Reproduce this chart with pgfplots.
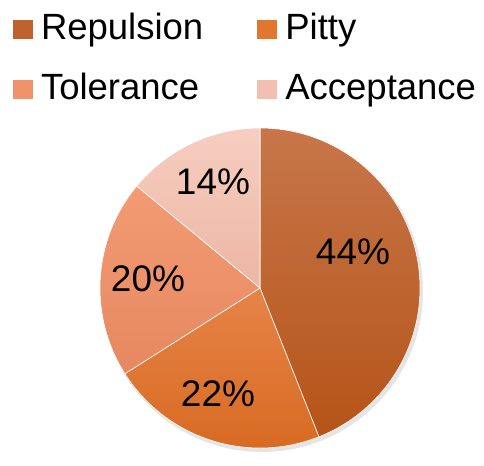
\documentclass[border=0pt]{standalone}
\usepackage{pgfplots}
\pgfplotsset{compat=1.18}
\usepackage{fontspec}
\setmainfont{Liberation Sans}
\definecolor{repT}{RGB}{199,118,74}
\definecolor{repB}{RGB}{181,84,24}
\definecolor{pitT}{RGB}{230,132,72}
\definecolor{pitB}{RGB}{214,104,30}
\definecolor{tolT}{RGB}{243,155,116}
\definecolor{tolB}{RGB}{230,136,96}
\definecolor{accT}{RGB}{247,206,192}
\definecolor{accB}{RGB}{236,182,164}
\definecolor{repL}{RGB}{192,98,46}
\definecolor{pitL}{RGB}{224,118,48}
\definecolor{tolL}{RGB}{240,146,106}
\definecolor{accL}{RGB}{242,192,176}
% data (percent)
\def\vA{44}\def\vB{22}\def\vC{20}\def\vD{14}
\pgfmathsetmacro\aZ{90}
\pgfmathsetmacro\aA{\aZ-3.6*\vA}
\pgfmathsetmacro\aB{\aA-3.6*\vB}
\pgfmathsetmacro\aC{\aB-3.6*\vC}
\pgfmathsetmacro\aD{\aC-3.6*\vD}
\def\cx{260}\def\cy{288}\def\R{160pt}
\begin{document}
\begin{tikzpicture}
\begin{axis}[
  hide axis, scale only axis,
  width=484pt, height=453pt,
  xmin=0, xmax=484, ymin=0, ymax=453, y dir=reverse,
  clip=false,
  legend columns=2,
  legend cell align=left,
  legend image code/.code={\fill[#1] (0pt,-8pt) rectangle (20pt,11pt);},
  legend style={at={(axis cs:13,14)}, anchor=north west, draw=none, fill=none,
    font=\fontsize{36.5}{40}\selectfont,
    inner sep=0pt, outer sep=0pt, row sep=27pt,
    nodes={inner sep=0pt, text height=25pt, text depth=8pt},
    /tikz/every odd column/.append style={column sep=8pt},
    /tikz/every even column/.append style={column sep=54pt}},
]
\path (axis cs:0,0) rectangle (axis cs:484,453);
\addlegendimage{fill=repL, draw=none}
\addlegendentry{Repulsion}
\addlegendimage{fill=pitL, draw=none}
\addlegendentry{Pitty}
\addlegendimage{fill=tolL, draw=none}
\addlegendentry{Tolerance}
\addlegendimage{fill=accL, draw=none}
\addlegendentry{Acceptance}
% soft shadow
\fill[black, opacity=0.10] (axis cs:\cx+2,\cy+3) circle[radius=161pt];
\shade[top color=repT, bottom color=repB, draw=white, line width=0.6pt]
  (axis cs:\cx,\cy) -- ++(\aZ:\R) arc[start angle=\aZ, end angle=\aA, radius=\R] -- cycle;
\shade[top color=pitT, bottom color=pitB, draw=white, line width=0.6pt]
  (axis cs:\cx,\cy) -- ++(\aA:\R) arc[start angle=\aA, end angle=\aB, radius=\R] -- cycle;
\shade[top color=tolT, bottom color=tolB, draw=white, line width=0.6pt]
  (axis cs:\cx,\cy) -- ++(\aB:\R) arc[start angle=\aB, end angle=\aC, radius=\R] -- cycle;
\shade[top color=accT, bottom color=accB, draw=white, line width=0.6pt]
  (axis cs:\cx,\cy) -- ++(\aC:\R) arc[start angle=\aC, end angle=\aD, radius=\R] -- cycle;
\begin{scope}[every node/.style={font=\fontsize{37}{40}\selectfont, inner sep=0pt}]
\node at (axis cs:353,252) {44\%};
\node at (axis cs:218,394) {22\%};
\node at (axis cs:148,279) {20\%};
\node at (axis cs:213,182) {14\%};
\end{scope}
\end{axis}
\end{tikzpicture}
\end{document}
